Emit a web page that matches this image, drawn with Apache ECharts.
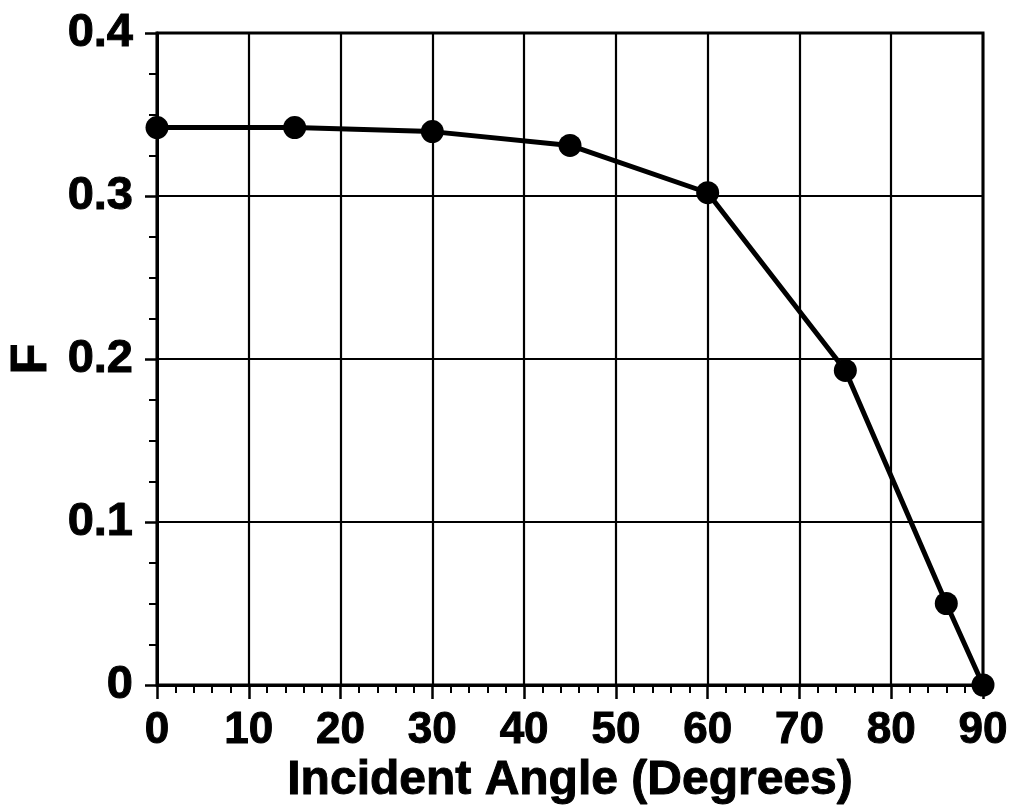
<!DOCTYPE html>
<html>
<head>
<meta charset="utf-8">
<script src="https://cdn.jsdelivr.net/npm/echarts@6/dist/echarts.min.js"></script>
<style>html,body{margin:0;padding:0;background:#fff;}#c{width:1016px;height:811px;}</style>
</head>
<body>
<div id="c"></div>
<script>
const angles = [0, 15, 30, 45, 60, 75, 86, 90];
const fValues = [0.342, 0.342, 0.3395, 0.331, 0.302, 0.193, 0.050, 0.0];
const xTickLabels = ['0','10','20','30','40','50','60','70','80','90'];
const yTickLabels = ['0','0.1','0.2','0.3','0.4'];
const xTitle = 'Incident Angle (Degrees)';
const yTitle = 'F';

const points = angles.map((a, i) => [a, fValues[i]]);
const font = '"Liberation Sans", Arial, Helvetica, sans-serif';
const boldText = {fontFamily: font, fontWeight: 'bold', color: '#000', textBorderColor: '#000', textBorderWidth: 1};
const chart = echarts.init(document.getElementById('c'), null, {renderer: 'canvas'});
chart.setOption({
  animation: false,
  backgroundColor: '#fff',
  grid: {left: 157, right: 33, top: 33, bottom: 126, containLabel: false, outerBoundsMode: 'none',
    show: true, borderColor: '#000', borderWidth: 3},
  xAxis: {
    type: 'value', min: 0, max: 90, interval: 10,
    name: xTitle, nameLocation: 'middle', nameGap: 72, nameMoveOverlap: false,
    nameTextStyle: Object.assign({fontSize: 48}, boldText),
    axisLine: {lineStyle: {color: '#000', width: 3}},
    axisTick: {show: true, inside: false, length: 14, lineStyle: {color: '#000', width: 2.5}},
    minorTick: {show: true, splitNumber: 5, length: 8, lineStyle: {color: '#000', width: 2}},
    splitLine: {show: true, lineStyle: {color: '#000', width: 2.2}},
    axisLabel: Object.assign({margin: 24, fontSize: 44,
      formatter: (v) => xTickLabels[Math.round(v / 10)]}, boldText)
  },
  yAxis: {
    type: 'value', min: 0, max: 0.4, interval: 0.1,
    name: yTitle, nameLocation: 'middle', nameGap: 100, nameRotate: 90, nameMoveOverlap: false,
    nameTextStyle: Object.assign({fontSize: 50}, boldText),
    axisLine: {show: true, lineStyle: {color: '#000', width: 3}},
    axisTick: {show: true, inside: false, length: 12, lineStyle: {color: '#000', width: 2.5}},
    minorTick: {show: true, splitNumber: 4, length: 8, lineStyle: {color: '#000', width: 2}},
    splitLine: {show: true, lineStyle: {color: '#000', width: 2.2}},
    axisLabel: Object.assign({margin: 24, fontSize: 47,
      formatter: (v) => yTickLabels[Math.round(v * 10)]}, boldText)
  },
  series: [{
    type: 'line', data: points, symbol: 'circle', symbolSize: 23,
    lineStyle: {color: '#000', width: 5},
    itemStyle: {color: '#000'},
    clip: false
  }]
});
</script>
</body>
</html>
